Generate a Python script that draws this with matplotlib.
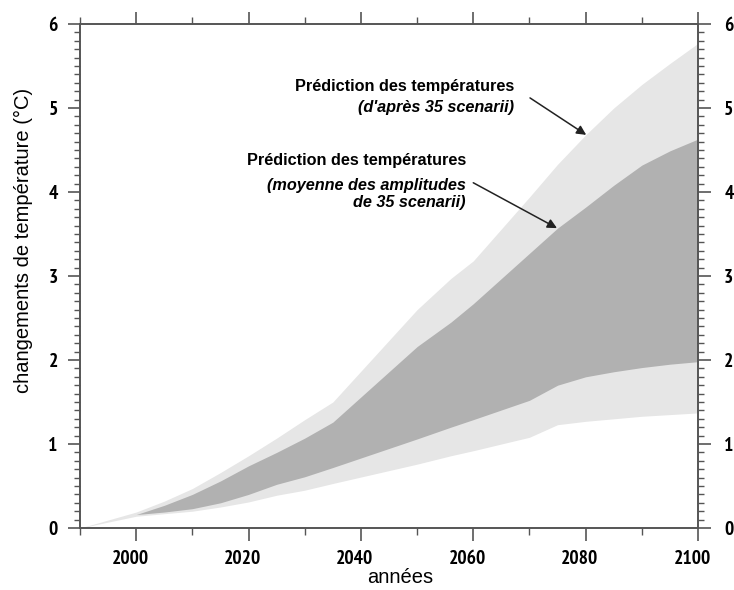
import matplotlib
matplotlib.use("Agg")
import matplotlib.pyplot as plt
from matplotlib.ticker import MultipleLocator
from matplotlib.transforms import ScaledTranslation

# ---- data ----
years = [1990, 2000, 2005, 2010, 2015, 2020, 2025, 2030, 2035, 2050, 2056,
         2060, 2070, 2075, 2080, 2085, 2090, 2095, 2100]
outer_upper = [0.00, 0.19, 0.32, 0.47, 0.66, 0.86, 1.07, 1.29, 1.50, 2.60, 2.97,
               3.18, 3.94, 4.33, 4.68, 5.00, 5.28, 5.53, 5.77]
outer_lower = [0.00, 0.14, 0.17, 0.20, 0.25, 0.31, 0.39, 0.45, 0.53, 0.76, 0.86,
               0.92, 1.08, 1.23, 1.27, 1.30, 1.33, 1.35, 1.37]
inner_upper = [0.00, 0.16, 0.27, 0.40, 0.56, 0.74, 0.90, 1.07, 1.26, 2.16, 2.45,
               2.67, 3.27, 3.57, 3.82, 4.08, 4.32, 4.49, 4.63]
inner_lower = [0.00, 0.16, 0.19, 0.23, 0.30, 0.40, 0.52, 0.61, 0.72, 1.06, 1.20,
               1.29, 1.52, 1.70, 1.80, 1.86, 1.91, 1.95, 1.98]

x_ticks = [2000, 2020, 2040, 2060, 2080, 2100]
y_ticks = [0, 1, 2, 3, 4, 5, 6]

label_outer = ["Prédiction des températures", "(d'après 35 scenarii)"]
label_inner = ["Prédiction des températures", "(moyenne des amplitudes", "de 35 scenarii)"]

# ---- figure ----
tick_font = ["PT Sans Narrow", "Liberation Sans", "DejaVu Sans"]
text_font = ["Liberation Sans", "DejaVu Sans"]
TICK_FS = 14

fig = plt.figure(figsize=(7.34, 5.90), dpi=100)
ax = fig.add_axes([80 / 734, 1 - 528 / 590, (698 - 80) / 734, (528 - 24) / 590])

light = "#e6e6e6"
dark = "#b1b1b1"
ax.fill_between(years, outer_lower, outer_upper, color=light, linewidth=0)
ax.fill_between(years, inner_lower, inner_upper, color=dark, linewidth=0)

ax.set_xlim(1990, 2100)
ax.set_ylim(0, 6)

ax.set_xticks(x_ticks)
ax.set_yticks(y_ticks)
ax.xaxis.set_minor_locator(MultipleLocator(10))
ax.yaxis.set_minor_locator(MultipleLocator(0.1))

spine_col = "#555555"
for s in ax.spines.values():
    s.set_color(spine_col)
    s.set_linewidth(1.4)

ax.tick_params(which="major", direction="out", length=9, width=1.2, color=spine_col,
               top=True, right=True, labelright=True, pad=7)
ax.tick_params(which="minor", direction="out", length=5, width=1.0, color=spine_col,
               top=True, right=True)
ax.tick_params(axis="y", which="minor", length=4)

ax.set_xticklabels([str(v) for v in x_ticks], fontfamily=tick_font,
                   fontweight="bold", fontsize=TICK_FS)
ax.set_yticklabels([str(v) for v in y_ticks], fontfamily=tick_font,
                   fontweight="bold", fontsize=TICK_FS)
for t in ax.yaxis.get_major_ticks():
    t.label2.set_fontfamily(tick_font)
    t.label2.set_fontweight("bold")
    t.label2.set_fontsize(TICK_FS)

ax.set_xlabel("années", fontsize=14.5, family=text_font)
ax.xaxis.label.set_verticalalignment("center")
ax.xaxis.set_label_coords(0.518, -0.099)
ax.set_ylabel("changements de température (°C)", fontsize=14.5, family=text_font)
ax.yaxis.label.set_verticalalignment("center")
ax.yaxis.set_label_coords(-0.092, 0.571)

# annotations
FS = 11.7
ax.text(2067.3, 5.25, label_outer[0], ha="right", va="center", fontsize=FS,
        fontweight="bold", family=text_font)
ax.text(2067.3, 5.01, label_outer[1], ha="right", va="center", fontsize=FS,
        fontweight="bold", fontstyle="italic", family=text_font)
ax.annotate("", xy=(2080.1, 4.68), xytext=(2070.1, 5.12),
            arrowprops=dict(arrowstyle="-|>", color="#222222", lw=1.1,
                            mutation_scale=14, shrinkA=0, shrinkB=0))

ax.text(2058.7, 4.38, label_inner[0], ha="right", va="center", fontsize=FS,
        fontweight="bold", family=text_font)
ax.text(2058.7, 4.08, label_inner[1], ha="right", va="center", fontsize=FS,
        fontweight="bold", fontstyle="italic", family=text_font)
ax.text(2058.7, 3.87, label_inner[2], ha="right", va="center", fontsize=FS,
        fontweight="bold", fontstyle="italic", family=text_font)
ax.annotate("", xy=(2074.9, 3.57), xytext=(2060.0, 4.11),
            arrowprops=dict(arrowstyle="-|>", color="#222222", lw=1.1,
                            mutation_scale=14, shrinkA=0, shrinkB=0))

# small label offsets as in the reference (x labels sit a bit left of ticks,
# right-hand labels sit a bit further out)
fig.canvas.draw()
dx = ScaledTranslation(-6 / 100, 0, fig.dpi_scale_trans)
for lab in ax.get_xticklabels():
    lab.set_transform(lab.get_transform() + dx)
dr = ScaledTranslation(4 / 100, 0, fig.dpi_scale_trans)
for t in ax.yaxis.get_major_ticks():
    t.label2.set_transform(t.label2.get_transform() + dr)

fig.savefig("out.png", dpi=100, facecolor="white")
